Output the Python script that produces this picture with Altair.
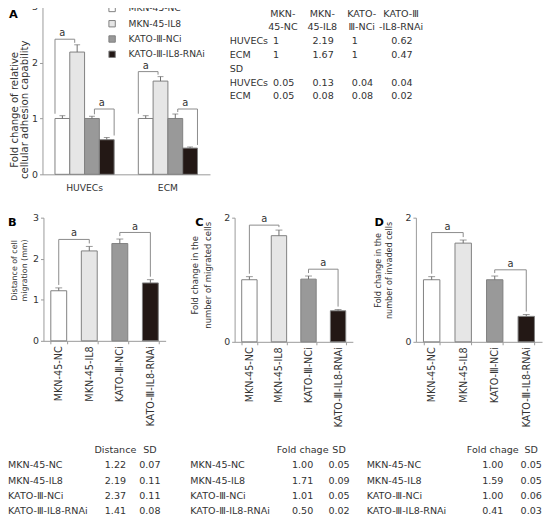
import altair as alt
import pandas as pd

# ---------------- data ----------------
series = ["MKN-45-NC", "MKN-45-IL8", "KATO-Ⅲ-NCi", "KATO-Ⅲ-IL8-RNAi"]
fills = ["#ffffff", "#e6e6e6", "#999999", "#231815"]

a_groups = ["HUVECs", "ECM"]
a_mean_huvecs = [1, 2.19, 1, 0.62]
a_mean_ecm = [1, 1.67, 1, 0.47]
a_sd_huvecs = [0.05, 0.13, 0.04, 0.04]
a_sd_ecm = [0.05, 0.08, 0.08, 0.02]
a_table_head1 = ["MKN-", "MKN-", "KATO-", "KATO-Ⅲ"]
a_table_head2 = ["45-NC", "45-IL8", "Ⅲ-NCi", "-IL8-RNAi"]

b_distance = [1.22, 2.19, 2.37, 1.41]
b_sd = [0.07, 0.11, 0.11, 0.08]
c_fold = [1.00, 1.71, 1.01, 0.50]
c_sd = [0.05, 0.09, 0.05, 0.02]
d_fold = [1.00, 1.59, 1.00, 0.41]
d_sd = [0.05, 0.05, 0.06, 0.03]

# significance brackets: (group,) left bar, right bar, bracket height in data units
a_brackets = [("HUVECs", 0, 1, 2.42), ("HUVECs", 2, 3, 1.17), ("ECM", 0, 1, 1.84), ("ECM", 2, 3, 1.17)]
b_brackets = [(0, 1, 2.47), (2, 3, 2.64)]
c_brackets = [(0, 1, 1.88), (2, 3, 1.17)]
d_brackets = [(0, 1, 1.76), (2, 3, 1.16)]

# ---------------- style ----------------
FONT = "DejaVu Sans"
W, H = 543, 510
STROKE = "#808080"
AXIS = "#999999"
TXT = "#333333"
BRK = "#8a8a8a"
ERR = "#6e6e6e"
TFS = 9.7  # table font size

layers = []


def base_axis(**kw):
    d = dict(labelFont=FONT, labelColor=TXT, labelFontSize=9.5, domainColor=AXIS, tickColor=AXIS,
             grid=False, titleFont=FONT, titleColor=TXT, titleFontWeight="normal", titleFontSize=10)
    d.update(kw)
    return alt.Axis(**d)


def y_axis(offset, values, title, tsize, tlh, tx, ty):
    return base_axis(orient="left", offset=offset, values=values, format="d", title=title,
                     titleFontSize=tsize, titleLineHeight=tlh, titleX=tx, titleY=ty,
                     tickSize=3, labelPadding=2)


# ---------------- panel A ----------------
rowsA = []
for g, means, sds in ((a_groups[0], a_mean_huvecs, a_sd_huvecs), (a_groups[1], a_mean_ecm, a_sd_ecm)):
    for s, m, sd in zip(series, means, sds):
        rowsA.append({"group": g, "series": s, "mean": m, "top": round(m + sd, 4)})
dfA = pd.DataFrame(rowsA)

xA = alt.Scale(domain=a_groups, range=[35, 205], paddingInner=0.29, paddingOuter=0.15)
xoA = alt.Scale(domain=series, paddingInner=0, paddingOuter=0)
yA = alt.Scale(domain=[0, 3], range=[165, -5], nice=False)
gapA = 2 / (170 / 3)


def XA():
    return alt.X("group:N", scale=xA, axis=None)


def XOA():
    return alt.XOffset("series:N", scale=xoA)


legA = alt.Legend(title=None, orient="none", legendX=101, legendY=-8, symbolType="square",
                  symbolSize=42, symbolStrokeColor=STROKE, symbolStrokeWidth=1, labelFont=FONT,
                  labelFontSize=9.3, labelColor=TXT, labelOffset=12, rowPadding=4.5, padding=0)

layers.append(alt.Chart(dfA).mark_bar(stroke=STROKE, strokeWidth=1).encode(
    x=alt.X("group:N", scale=xA,
            axis=base_axis(orient="bottom", offset=-(H - 165), title=None, labelAngle=0, ticks=False,
                           labelPadding=9, labelFontSize=9.3)),
    xOffset=XOA(),
    y=alt.Y("mean:Q", scale=yA,
            axis=y_axis(-35, [0, 1, 2, 3], ["Fold change of relative", "cellular adhesion capability"],
                        10.3, 10.5, -23.5, 99)),
    fill=alt.Fill("series:N", scale=alt.Scale(domain=series, range=fills), legend=legA),
))
layers.append(alt.Chart(dfA).mark_rule(color=ERR, strokeWidth=1).encode(
    x=XA(), xOffset=XOA(), y=alt.Y("mean:Q", scale=yA, axis=None), y2="top:Q"))
layers.append(alt.Chart(dfA).mark_tick(color=ERR, thickness=1, size=6, orient="horizontal").encode(
    x=XA(), xOffset=XOA(), y=alt.Y("top:Q", scale=yA, axis=None)))

topA = {(r["group"], r["series"]): r["top"] for r in rowsA}
ptsA, labsA = [], []
for k, (g, l, r, lev) in enumerate(a_brackets):
    sl, sr = series[l], series[r]
    ptsA += [
        {"id": k, "o": 0, "group": g, "series": sl, "y": min(topA[(g, sl)] + gapA, lev)},
        {"id": k, "o": 1, "group": g, "series": sl, "y": lev},
        {"id": k, "o": 2, "group": g, "series": sr, "y": lev},
        {"id": k, "o": 3, "group": g, "series": sr, "y": min(topA[(g, sr)] + gapA, lev)},
    ]
    labsA.append({"group": g, "series": sl, "y": lev, "t": "a"})
layers.append(alt.Chart(pd.DataFrame(ptsA)).mark_line(color=BRK, strokeWidth=1).encode(
    x=XA(), xOffset=XOA(), y=alt.Y("y:Q", scale=yA, axis=None), detail="id:N", order=alt.Order("o:Q")))
layers.append(alt.Chart(pd.DataFrame(labsA)).mark_text(font=FONT, fontSize=10, color=TXT, baseline="bottom",
                                                       dx=7.5, dy=-1).encode(
    x=XA(), xOffset=XOA(), y=alt.Y("y:Q", scale=yA, axis=None), text="t:N"))

# ---------------- table A ----------------
colsA = ["c1", "c2", "c3", "c4"]
trowsA = ["h1", "h2", "mH", "mE", "sdh", "sH", "sE"]
xTA = alt.Scale(type="point", domain=colsA, range=[269, 389], padding=0)
yTA = alt.Scale(type="point", domain=trowsA, range=[2, 86], padding=0)
headA, valsA = [], []
for c, h1, h2 in zip(colsA, a_table_head1, a_table_head2):
    headA += [{"col": c, "row": "h1", "t": h1}, {"col": c, "row": "h2", "t": h2}]
for rk, arr in (("mH", a_mean_huvecs), ("mE", a_mean_ecm), ("sH", a_sd_huvecs), ("sE", a_sd_ecm)):
    for c, v in zip(colsA, arr):
        valsA.append({"col": c, "row": rk, "t": f"{v:g}"})
rowlabA = [{"row": "mH", "t": a_groups[0]}, {"row": "mE", "t": a_groups[1]}, {"row": "sdh", "t": "SD"},
           {"row": "sH", "t": a_groups[0]}, {"row": "sE", "t": a_groups[1]}]
layers.append(alt.Chart(pd.DataFrame(headA)).mark_text(font=FONT, fontSize=TFS, color=TXT, align="center",
                                                       dx=10).encode(
    x=alt.X("col:N", scale=xTA, axis=None), y=alt.Y("row:N", scale=yTA, axis=None), text="t:N"))
layers.append(alt.Chart(pd.DataFrame(valsA)).mark_text(font=FONT, fontSize=TFS, color=TXT, align="left").encode(
    x=alt.X("col:N", scale=xTA, axis=None), y=alt.Y("row:N", scale=yTA, axis=None), text="t:N"))
layers.append(alt.Chart(pd.DataFrame(rowlabA)).mark_text(font=FONT, fontSize=TFS, color=TXT, align="left").encode(
    x=alt.value(225), y=alt.Y("row:N", scale=yTA, axis=None), text="t:N"))


# ---------------- panels B, C, D ----------------
def simple_panel(means, sds, brackets, x_rng, y_dom, y_rng, y_vals, title, tsize, tlh, tx, ty):
    df = pd.DataFrame({"cat": series, "mean": means, "top": [round(m + s, 4) for m, s in zip(means, sds)]})
    tops = list(df["top"])
    xs = alt.Scale(domain=series, range=x_rng, paddingInner=0.48, paddingOuter=0.24)
    ys = alt.Scale(domain=y_dom, range=y_rng, nice=False)
    step = (x_rng[1] - x_rng[0]) / len(series)
    gap = 3 / ((y_rng[0] - y_rng[1]) / (y_dom[1] - y_dom[0]))
    x_ax = base_axis(orient="bottom", offset=-(H - y_rng[0]), title=None, labelAngle=-90,
                     tickBand="extent", tickSize=3, labelPadding=2, labelFontSize=9.8)
    y_ax = y_axis(-x_rng[0], y_vals, title, tsize, tlh, tx, ty)
    out = [alt.Chart(df).mark_bar(stroke=STROKE, strokeWidth=1).encode(
        x=alt.X("cat:N", scale=xs, axis=x_ax), y=alt.Y("mean:Q", scale=ys, axis=y_ax),
        fill=alt.Fill("cat:N", scale=alt.Scale(domain=series, range=fills), legend=None))]
    out.append(alt.Chart(df).mark_rule(color=ERR, strokeWidth=1).encode(
        x=alt.X("cat:N", scale=xs, axis=None), y=alt.Y("mean:Q", scale=ys, axis=None), y2="top:Q"))
    out.append(alt.Chart(df).mark_tick(color=ERR, thickness=1, size=7, orient="horizontal").encode(
        x=alt.X("cat:N", scale=xs, axis=None), y=alt.Y("top:Q", scale=ys, axis=None)))
    pts, labs = [], []
    for k, (l, r, lev) in enumerate(brackets):
        pts += [
            {"id": k, "o": 0, "cat": series[l], "y": min(tops[l] + gap, lev)},
            {"id": k, "o": 1, "cat": series[l], "y": lev},
            {"id": k, "o": 2, "cat": series[r], "y": lev},
            {"id": k, "o": 3, "cat": series[r], "y": min(tops[r] + gap, lev)},
        ]
        labs.append({"cat": series[l], "y": lev, "t": "a"})
    out.append(alt.Chart(pd.DataFrame(pts)).mark_line(color=BRK, strokeWidth=1).encode(
        x=alt.X("cat:N", scale=xs, axis=None), y=alt.Y("y:Q", scale=ys, axis=None),
        detail="id:N", order=alt.Order("o:Q")))
    out.append(alt.Chart(pd.DataFrame(labs)).mark_text(font=FONT, fontSize=10, color=TXT, baseline="bottom",
                                                       dx=step / 2, dy=-1).encode(
        x=alt.X("cat:N", scale=xs, axis=None), y=alt.Y("y:Q", scale=ys, axis=None), text="t:N"))
    return out


def small_table(header, vals, sds, label_x, col_rng):
    rows = ["hdr"] + series
    ys = alt.Scale(type="point", domain=rows, range=[445, 507], padding=0)
    xs = alt.Scale(type="point", domain=["v", "sd"], range=col_rng, padding=0)
    cells = [{"col": "v", "row": "hdr", "t": header}, {"col": "sd", "row": "hdr", "t": "SD"}]
    for s, v, sd in zip(series, vals, sds):
        cells += [{"col": "v", "row": s, "t": f"{v:.2f}"}, {"col": "sd", "row": s, "t": f"{sd:.2f}"}]
    labs = [{"row": s, "t": s} for s in series]
    return [
        alt.Chart(pd.DataFrame(cells)).mark_text(font=FONT, fontSize=TFS, color=TXT, align="center").encode(
            x=alt.X("col:N", scale=xs, axis=None), y=alt.Y("row:N", scale=ys, axis=None), text="t:N"),
        alt.Chart(pd.DataFrame(labs)).mark_text(font=FONT, fontSize=TFS, color=TXT, align="left").encode(
            x=alt.value(label_x), y=alt.Y("row:N", scale=ys, axis=None), text="t:N"),
    ]


layers += simple_panel(b_distance, b_sd, b_brackets, [36, 160], [0, 3], [334, 209], [0, 1, 2, 3],
                       ["Distance of cell", "migration (mm)"], 8, 10, -25, 262)
layers += simple_panel(c_fold, c_sd, c_brackets, [230, 350], [0, 2], [335, 209], [0, 1, 2],
                       ["Fold change in the", "number of migrated cells"], 8.6, 14, -36, 267)
layers += simple_panel(d_fold, d_sd, d_brackets, [414, 542], [0, 2], [335, 209], [0, 1, 2],
                       ["Fold change in the", "number of invaded cells"], 8.2, 10.5, -33.5, 262)
layers += small_table("Distance", b_distance, b_sd, 0, [109, 144])
layers += small_table("Fold chage", c_fold, c_sd, 185, [299, 336])
layers += small_table("Fold chage", d_fold, d_sd, 364, [492, 531])

for t, px, py in (("A", 1, 6), ("B", 0, 217), ("C", 190, 217), ("D", 372, 217)):
    layers.append(alt.Chart(alt.Data(values=[{"t": t}])).mark_text(
        font=FONT, fontSize=11.5, fontWeight="bold", align="left", baseline="alphabetic", color="#000000"
    ).encode(text="t:N", x=alt.value(px), y=alt.value(py)))

chart = alt.layer(*layers).resolve_scale(
    x="independent", y="independent", xOffset="independent", fill="independent"
).resolve_axis(x="independent", y="independent").resolve_legend(fill="independent").properties(
    width=W, height=H, autosize=alt.AutoSizeParams(type="none"), padding=0
).configure_view(strokeWidth=0).configure_text(font=FONT)

chart.save("out.html", embed_options={"renderer": "svg", "actions": False})
